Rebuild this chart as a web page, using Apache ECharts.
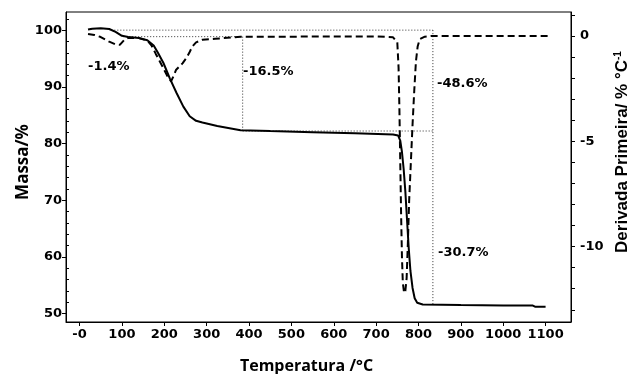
<!DOCTYPE html>
<html><head><meta charset="utf-8">
<script src="https://cdn.jsdelivr.net/npm/echarts@6/dist/echarts.min.js"></script>
<style>html,body{margin:0;padding:0;background:#fff}#c{width:630px;height:374px}</style>
</head><body><div id="c"></div>
<script>
// ---- data ----
const xTicks = [0,100,200,300,400,500,600,700,800,900,1000,1100];
const massMajorTicks = [50,60,70,80,90,100];
const massMinorTicks = [52,54,56,58,62,64,66,68,72,74,76,78,82,84,86,88,92,94,96,98,102];
const derivMajorTicks = [-10,-5,0];
const derivAllTicks = [-13,-12,-11,-10,-9,-8,-7,-6,-5,-4,-3,-2,-1,0,1];

// Mass (%) vs temperature (°C)
const massData = [
  [20,100.1],[30,100.25],[50,100.35],[70,100.2],[85,99.7],[100,99.0],[115,98.8],[140,98.6],
  [160,98.2],[175,97.3],[185,96.0],[198,94.2],[213,91.5],[229,88.9],[245,86.5],[260,84.8],
  [275,84.0],[290,83.7],[325,83.1],[380,82.35],[450,82.2],[550,82.0],[650,81.8],[740,81.6],
  [752,81.4],[757,80.5],[761,78.5],[765,75.5],[769,71.5],[773,66.5],[777,61.5],[781,57.5],
  [786,54.5],[791,52.7],[797,51.9],[810,51.6],[900,51.5],[1000,51.4],[1070,51.4],[1075,51.2],[1100,51.2]
];
// First derivative (%/°C) vs temperature (°C)
const derivData = [
  [20,0.1],[35,0.05],[50,-0.05],[70,-0.27],[85,-0.4],[95,-0.42],[105,-0.2],[115,-0.08],[140,-0.1],
  [160,-0.22],[170,-0.45],[180,-0.85],[196,-1.46],[208,-1.93],[216,-2.15],[222,-1.9],[228,-1.6],
  [243,-1.3],[252,-1.05],[259,-0.8],[266,-0.5],[275,-0.3],[290,-0.18],[320,-0.13],[360,-0.07],
  [380,-0.03],[500,-0.03],[700,-0.02],[740,-0.06],[750,-0.3],[753,-1.5],[755,-3.5],[757,-6],
  [759,-8.5],[761,-10.5],[763,-11.7],[766,-12.2],[769,-12.1],[772,-11.5],[775,-9.8],[778,-7.8],
  [782,-6.0],[786,-4.2],[790,-2.6],[794,-1.2],[798,-0.5],[803,-0.15],[815,-0.03],[830,0],[1110,0]
];
// Dotted guide lines (mass axis)
const guideTop = [[75,100],[834,100]];
const guideStep1 = [[103,98.85],[385,98.85]];
const guideV1 = [[385,98.85],[385,82.2]];
const guideStep2 = [[385,82.2],[834,82.2]];
const guideV2 = [[834,100],[834,51.55]];
const stepLabels = ['-1.4%','-16.5%','-48.6%','-30.7%'];

// ---- chart ----
const tickFont = {color:'#000', fontFamily:'DejaVu Sans', fontWeight:'bold', fontSize:13};
const guideStyle = {color:'#333', width:1, type:[1,2]};
function guide(d){ return {type:'line', yAxisIndex:0, data:d, showSymbol:false, silent:true, lineStyle:guideStyle, z:1}; }

const chart = echarts.init(document.getElementById('c'), null, {renderer:'canvas'});
chart.setOption({
  animation:false,
  grid:{left:66, right:59, top:12, bottom:52, outerBoundsMode:'none', containLabel:false,
        show:true, borderColor:'#000', borderWidth:1, backgroundColor:'transparent'},
  xAxis:{
    type:'value', min:-32, max:1160,
    name:'Temperatura /°C', nameLocation:'middle', nameGap:36, nameMoveOverlap:false,
    nameTextStyle:{color:'#000', fontFamily:'Open Sans', fontWeight:'bold', fontSize:16, padding:[0,24,0,0]},
    axisLine:{show:true, onZero:false, lineStyle:{color:'#000', width:1}},
    axisTick:{show:true, customValues:xTicks, length:4, lineStyle:{color:'#000'}},
    axisLabel:Object.assign({customValues:xTicks, margin:6, formatter:v => v===0 ? '-0' : String(v)}, tickFont),
    splitLine:{show:false}
  },
  yAxis:[
    {
      type:'value', position:'left', min:48.5, max:103.2,
      name:'Massa/%', nameLocation:'middle', nameGap:34, nameRotate:90, nameMoveOverlap:false,
      nameTextStyle:{color:'#000', fontFamily:'Open Sans', fontWeight:'bold', fontSize:17, padding:[0,0,0,10]},
      axisLine:{show:true, onZero:false, lineStyle:{color:'#000', width:1}},
      axisTick:{show:true, customValues:massMajorTicks, length:4, lineStyle:{color:'#000'}},
      axisLabel:Object.assign({customValues:massMajorTicks, margin:4}, tickFont),
      splitLine:{show:false}
    },
    {
      type:'value', position:'left', min:48.5, max:103.2,
      axisLine:{show:false, onZero:false},
      axisTick:{show:true, inside:true, customValues:massMinorTicks, length:3, lineStyle:{color:'#000'}},
      axisLabel:{show:false}, splitLine:{show:false}
    },
    {
      type:'value', position:'right', min:-13.58, max:1.14,
      name:'{a|Derivada Primeira/ % °C}{s|-1}', nameLocation:'middle', nameGap:42, nameRotate:90, nameMoveOverlap:false,
      nameTextStyle:{color:'#000', padding:[0,0,0,30], rich:{
        a:{fontFamily:'Liberation Sans', fontWeight:'bold', fontSize:17, color:'#000'},
        s:{fontFamily:'Liberation Sans', fontWeight:'bold', fontSize:10, color:'#000', padding:[0,0,9,0]}
      }},
      axisLine:{show:true, onZero:false, lineStyle:{color:'#000', width:1}},
      axisTick:{show:true, customValues:derivAllTicks, length:4, lineStyle:{color:'#000'}},
      axisLabel:Object.assign({customValues:derivMajorTicks, margin:9}, tickFont),
      splitLine:{show:false}
    }
  ],
  series:[
    guide(guideTop), guide(guideStep1), guide(guideV1), guide(guideStep2), guide(guideV2),
    {type:'line', name:'Massa', yAxisIndex:0, data:massData, showSymbol:false, lineStyle:{color:'#000', width:2}, z:3},
    {type:'line', name:'Derivada', yAxisIndex:2, data:derivData, showSymbol:false, lineStyle:{color:'#000', width:2, type:[7,4]}, z:2}
  ],
  graphic:[
    {type:'text', x:88, y:67, style:{text:stepLabels[0], font:'bold 13px "DejaVu Sans"', fill:'#000', verticalAlign:'middle'}},
    {type:'text', x:243, y:72, style:{text:stepLabels[1], font:'bold 13px "DejaVu Sans"', fill:'#000', verticalAlign:'middle'}},
    {type:'text', x:437, y:84, style:{text:stepLabels[2], font:'bold 13px "DejaVu Sans"', fill:'#000', verticalAlign:'middle'}},
    {type:'text', x:438, y:253, style:{text:stepLabels[3], font:'bold 13px "DejaVu Sans"', fill:'#000', verticalAlign:'middle'}}
  ]
});
</script>
</body></html>
